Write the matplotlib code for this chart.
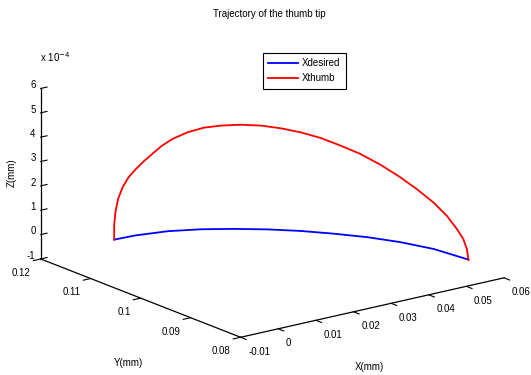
import numpy as np
import matplotlib
matplotlib.use('Agg')
import matplotlib.pyplot as plt
from matplotlib.ticker import FuncFormatter, MultipleLocator
from mpl_toolkits.mplot3d import proj3d

plt.rcParams['font.family'] = ['Liberation Sans', 'DejaVu Sans']
plt.rcParams['font.size'] = 7

# desired trajectory, z = 0
x_des = [0.00023, 0.00564, 0.01292, 0.01933, 0.02507, 0.03048, 0.03536,
         0.03977, 0.04394, 0.04737, 0.05008, 0.05136]
y_des = [0.1130, 0.1128, 0.1118, 0.1100, 0.1077, 0.1051, 0.1022,
         0.0989, 0.0953, 0.0913, 0.0866, 0.0806]
z_des = [0.0] * len(x_des)

# thumb tip trajectory
x_thumb = [0.00023, 0.00023, 0.00057, 0.00128, 0.00233, 0.00391, 0.00564,
           0.00747, 0.00928, 0.01146, 0.01388, 0.01677, 0.01990, 0.02278,
           0.02616, 0.02939, 0.03243, 0.03536, 0.03801, 0.04061, 0.04310,
           0.04531, 0.04737, 0.04873, 0.05008, 0.05057, 0.05094, 0.05118,
           0.05130, 0.05136]
y_thumb = [0.1130, 0.1130, 0.1130, 0.1130, 0.1129, 0.1129, 0.1128,
           0.1125, 0.1123, 0.1120, 0.1115, 0.1107, 0.1098, 0.1086,
           0.1072, 0.1056, 0.1039, 0.1022, 0.1002, 0.0982, 0.0961,
           0.0937, 0.0913, 0.0889, 0.0866, 0.0843, 0.0826, 0.0815,
           0.0809, 0.0806]
z_thumb_e4 = [0, 0.59, 1.13, 1.64, 2.08, 2.44, 2.71, 3.01, 3.24, 3.53, 3.79,
              4.02, 4.17, 4.25, 4.28, 4.26, 4.18, 4.05, 3.89, 3.65, 3.39,
              3.06, 2.67, 2.31, 1.90, 1.52, 1.11, 0.78, 0.42, 0]
z_thumb = np.array(z_thumb_e4) * 1e-4

W, H = 531, 375
fig = plt.figure(figsize=(W / 100, H / 100), dpi=100)
ax = fig.add_axes([0, 0, 1, 1], projection='3d', proj_type='ortho')
ax.view_init(elev=17.3, azim=-127.2)
ax.set_box_aspect((1, 1, 0.54))

ax.plot(x_des, y_des, z_des, color='blue', lw=1.3, label='Xdesired')
ax.plot(x_thumb, y_thumb, z_thumb, color='red', lw=1.3, label='Xthumb')

ax.set_xlim(-0.01, 0.06)
ax.set_ylim(0.08, 0.12)
ax.set_zlim(-1e-4, 6e-4)
ax.xaxis.set_major_locator(MultipleLocator(0.01))
ax.yaxis.set_major_locator(MultipleLocator(0.01))
ax.zaxis.set_major_locator(MultipleLocator(1e-4))
ax.xaxis.set_major_formatter(FuncFormatter(lambda v, p: '%g' % round(v, 4)))
ax.yaxis.set_major_formatter(FuncFormatter(lambda v, p: '%g' % round(v, 4)))
ax.zaxis.set_major_formatter(FuncFormatter(lambda v, p: '%g' % round(v * 1e4, 3)))

ax.grid(False)
for a in (ax.xaxis, ax.yaxis, ax.zaxis):
    a.set_pane_color((1, 1, 1, 0))
    a.pane.set_edgecolor((1, 1, 1, 0))
    a.line.set_color('black')
    a.line.set_linewidth(0.9)
    a._axinfo['tick']['color'] = 'black'
# x and y ticks point into the box, z ticks out
for a in (ax.xaxis, ax.yaxis):
    a._axinfo['tick']['inward_factor'] = 0.35
    a._axinfo['tick']['outward_factor'] = 0.0
ax.zaxis._axinfo['tick']['inward_factor'] = 0.0
ax.zaxis._axinfo['tick']['outward_factor'] = 0.3
ax.xaxis.set_tick_params(pad=-1)
ax.yaxis.set_tick_params(pad=-1)
ax.zaxis.set_tick_params(pad=-6)
for t in ax.get_xticklabels():
    t.set_ha('left')
for t in ax.get_yticklabels():
    t.set_ha('right')
for t in ax.get_zticklabels():
    t.set_ha('right')
    t.set_va('baseline')

# place the axes so the box corners land where they are in the original
fig.canvas.draw()


def px(x, y, z):
    xs, ys, _ = proj3d.proj_transform(np.array([x]), np.array([y]), np.array([z]), ax.get_proj())
    return ax.transData.transform((xs[0], ys[0]))


pos = ax.get_position()
L, B0, S = pos.x0 * W, pos.y0 * H, pos.width * W
pa = px(-0.01, 0.12, 6e-4)
pb = px(0.06, 0.08, -1e-4)
ua, va = (pa - [L, B0]) / S
ub, vb = (pb - [L, B0]) / S
ta = (40.7, H - 87.3)
tb = (504.0, H - 279.0)
S2 = (tb[0] - ta[0]) / (ub - ua)
L2 = ta[0] - S2 * ua
B2 = 0.5 * ((ta[1] - S2 * va) + (tb[1] - S2 * vb))
ax.set_position([L2 / W, B2 / H, S2 / W, S2 / H])

fig.text(269 / W, 1 - 14 / H, 'Trajectory of the thumb tip', ha='center', va='center')
fig.text(40 / W, 1 - 57 / H, 'x 10$^{-4}$', ha='left', va='center')
fig.text(12 / W, 1 - 173 / H, 'Z(mm)', rotation=90, ha='center', va='center')
fig.text(128 / W, 1 - 363 / H, 'Y(mm)', ha='center', va='center')
fig.text(369 / W, 1 - 367 / H, 'X(mm)', ha='center', va='center')

leg = ax.legend(loc='upper left', bbox_to_anchor=(262.7 / W, 1 - 52.7 / H),
                bbox_transform=fig.transFigure, borderaxespad=0, fancybox=False,
                edgecolor='black', framealpha=1, handlelength=3.1,
                handletextpad=0.4, borderpad=0.55, labelspacing=0.55)
leg.get_frame().set_linewidth(0.8)

fig.savefig('out.png', dpi=100)
